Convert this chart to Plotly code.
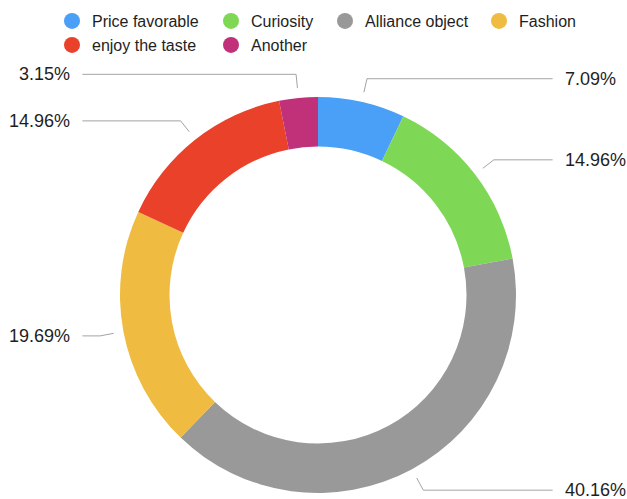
import math
import plotly.graph_objects as go

# Survey shares (%) in drawing order, clockwise from 12 o'clock
categories = ["Price favorable", "Curiosity", "Alliance object", "Fashion",
              "enjoy the taste", "Another"]
shares = [7.09, 14.96, 40.16, 19.69, 14.96, 3.15]
colors = ["#4A9FF6", "#7ED855", "#999999", "#EFBB40", "#E9412A", "#C0317A"]

W, H = 627, 499
CX, CY, R = 318, 295, 198          # donut centre / outer radius in px
FONT = "Liberation Sans, Arial, sans-serif"
LINE_COLOR = "#A3A3A3"
TEXT_COLOR = "#1E1E1E"

# Legend slots (left edge px, row centre px) for each category
LEGEND_SLOTS = [(52, 21), (211, 21), (325, 21), (479, 21),
                (52, 45), (211, 45)]

fig = go.Figure()

fig.add_trace(go.Pie(
    labels=categories, values=shares, sort=False, direction="clockwise",
    rotation=0, hole=0.75, textinfo="none", hoverinfo="label+percent",
    marker=dict(colors=colors, line=dict(width=0)), showlegend=False,
    domain=dict(x=[(CX - R) / W, (CX + R) / W],
                y=[(H - CY - R) / H, (H - CY + R) / H]),
))

# Leader lines and percentage labels, placed from each slice's mid-angle.
total = sum(shares)
cum = 0.0
annotations = []
for cat, v in zip(categories, shares):
    theta = 2 * math.pi * (cum + v / 2) / total
    cum += v
    s, c = math.sin(theta), math.cos(theta)
    r0, r1 = 1.05, 1.12
    x0, y0 = r0 * s, r0 * c
    x1, y1 = r1 * s, r1 * c
    right = s > 0
    x2 = 1.185 if right else -1.19
    fig.add_trace(go.Scatter(
        x=[x0, x1, x2], y=[y0, y1, y1], mode="lines",
        line=dict(color=LINE_COLOR, width=1), hoverinfo="skip",
        showlegend=False, xaxis="x", yaxis="y"))
    annotations.append(dict(
        x=x2, y=y1, xref="x", yref="y", text=f"{v:.2f}%", showarrow=False,
        xanchor="left" if right else "right", yanchor="middle",
        xshift=10 if right else -10,
        font=dict(family=FONT, size=18, color=TEXT_COLOR)))

# Legend: one single-entry legend per category, laid out in two rows
legend_style = dict(orientation="h", xanchor="left", yanchor="middle",
                    font=dict(family=FONT, size=16, color=TEXT_COLOR),
                    bgcolor="rgba(0,0,0,0)", borderwidth=0, itemclick=False)
legend_layout = {}
for i, (cat, col) in enumerate(zip(categories, colors)):
    key = "legend" if i == 0 else f"legend{i + 1}"
    fig.add_trace(go.Scatter(
        x=[None], y=[None], mode="markers", name=cat, legend=key,
        marker=dict(symbol="circle", size=16, color=col),
        hoverinfo="skip"))
    lx, ly = LEGEND_SLOTS[i]
    legend_layout[key] = dict(x=lx / W, y=1 - ly / H, **legend_style)

fig.update_layout(
    width=W, height=H, margin=dict(l=0, r=0, t=0, b=0),
    paper_bgcolor="white", plot_bgcolor="white",
    xaxis=dict(range=[-CX / R, (W - CX) / R], visible=False, domain=[0, 1],
               fixedrange=True),
    yaxis=dict(range=[-(H - CY) / R, CY / R], visible=False, domain=[0, 1],
               fixedrange=True),
    annotations=annotations,
    showlegend=True,
    **legend_layout,
)

fig.write_html("out.html")
